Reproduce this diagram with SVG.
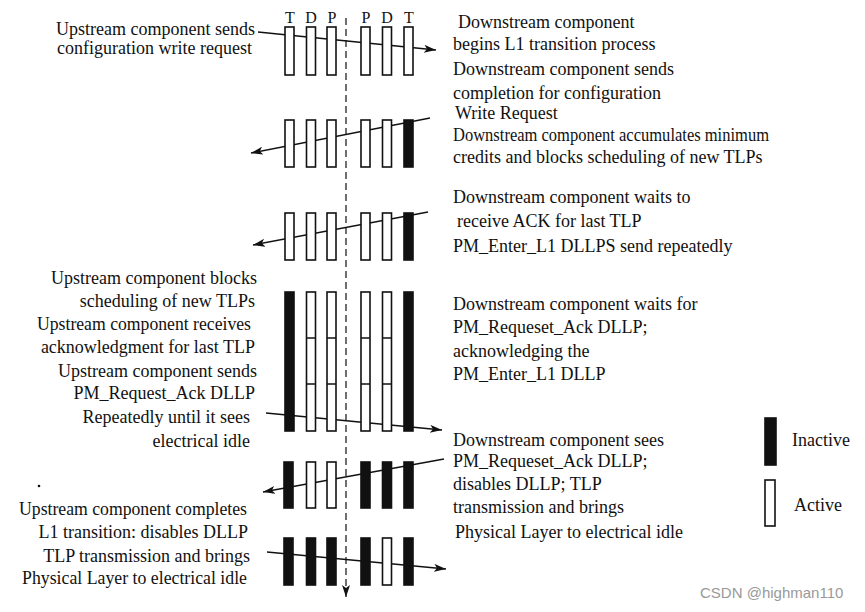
<svg xmlns="http://www.w3.org/2000/svg" width="865" height="612" viewBox="0 0 865 612">
<style>
.t{font-family:"Liberation Serif","Times New Roman",serif;font-size:18px;fill:#111}
.e{text-anchor:end}
.h{font-family:"Liberation Serif","Times New Roman",serif;font-size:16px;fill:#111;text-anchor:middle}
.a{fill:#fff;stroke:#111;stroke-width:1.6}
.i{fill:#111;stroke:#111;stroke-width:1.6}
.c{fill:none;stroke:#111;stroke-width:1.4}
.d{fill:none;stroke:#333;stroke-width:1.4;stroke-dasharray:7 4}
.w{font-family:"Liberation Sans",Arial,sans-serif;font-size:15px;fill:#999}
</style>
<defs>
<marker id="ah" markerUnits="userSpaceOnUse" markerWidth="14" markerHeight="10" refX="12" refY="4" orient="auto">
<path d="M0,0 L12,4 L0,8 L3,4 z" fill="#111"/>
</marker>
</defs>
<rect width="865" height="612" fill="#fff"/>

<g id="headers">
<text class="h" x="290" y="23">T</text>
<text class="h" x="311" y="23">D</text>
<text class="h" x="332" y="23">P</text>
<text class="h" x="366" y="23">P</text>
<text class="h" x="387" y="23">D</text>
<text class="h" x="409" y="23">T</text>
</g>

<g id="connectors">
<line class="d" x1="346" y1="18" x2="346" y2="597" marker-end="url(#ah)"/>
<line class="c" x1="258" y1="32" x2="436" y2="50" marker-end="url(#ah)"/>
<line class="c" x1="430" y1="118" x2="251" y2="153" marker-end="url(#ah)"/>
<line class="c" x1="428" y1="212" x2="253" y2="245" marker-end="url(#ah)"/>
<line class="c" x1="266" y1="413" x2="442" y2="430" marker-end="url(#ah)"/>
<line class="c" x1="444" y1="459" x2="263" y2="492" marker-end="url(#ah)"/>
<line class="c" x1="267" y1="552" x2="446" y2="569" marker-end="url(#ah)"/>
</g>

<g id="row1">
<rect class="a" x="285" y="27" width="9" height="48"/>
<rect class="a" x="306.5" y="27" width="9" height="48"/>
<rect class="a" x="327" y="27" width="9" height="48"/>
<rect class="a" x="361" y="27" width="9" height="48"/>
<rect class="a" x="382.5" y="27" width="9" height="48"/>
<rect class="a" x="404" y="27" width="9" height="48"/>
</g>
<g id="row2">
<rect class="a" x="285" y="120" width="9" height="47"/>
<rect class="a" x="306.5" y="120" width="9" height="47"/>
<rect class="a" x="327" y="120" width="9" height="47"/>
<rect class="a" x="361" y="120" width="9" height="47"/>
<rect class="a" x="382.5" y="120" width="9" height="47"/>
<rect class="i" x="404" y="120" width="9" height="47"/>
</g>
<g id="row3">
<rect class="a" x="285" y="213" width="9" height="47"/>
<rect class="a" x="306.5" y="213" width="9" height="47"/>
<rect class="a" x="327" y="213" width="9" height="47"/>
<rect class="a" x="361" y="213" width="9" height="47"/>
<rect class="a" x="382.5" y="213" width="9" height="47"/>
<rect class="i" x="404" y="213" width="9" height="47"/>
</g>
<g id="row4">
<rect class="i" x="285" y="292" width="9" height="139"/>
<rect class="a" x="306.5" y="292" width="9" height="139"/>
<rect class="a" x="327" y="292" width="9" height="139"/>
<rect class="a" x="361" y="292" width="9" height="139"/>
<rect class="a" x="382.5" y="292" width="9" height="139"/>
<rect class="i" x="404" y="292" width="9" height="139"/>
<path class="c" d="M306.5,338h9M327,338h9M361,338h9M382.5,338h9M306.5,384h9M327,384h9M361,384h9M382.5,384h9"/>
</g>
<g id="row5">
<rect class="i" x="284" y="462" width="9" height="46"/>
<rect class="a" x="306.5" y="462" width="9" height="46"/>
<rect class="a" x="327" y="462" width="9" height="46"/>
<rect class="i" x="361" y="462" width="9" height="46"/>
<rect class="i" x="382.5" y="462" width="9" height="46"/>
<rect class="i" x="404" y="462" width="9" height="46"/>
</g>
<g id="row6">
<rect class="i" x="284" y="538" width="9" height="47"/>
<rect class="i" x="306.5" y="538" width="9" height="47"/>
<rect class="i" x="327" y="538" width="9" height="47"/>
<rect class="i" x="361" y="538" width="9" height="47"/>
<rect class="a" x="382.5" y="538" width="9" height="47"/>
<rect class="i" x="404" y="538" width="9" height="47"/>
</g>

<g id="left1">
<text class="t e" x="255" y="35">Upstream component sends</text>
<text class="t e" x="252" y="54">configuration write request</text>
</g>
<g id="left2">
<text class="t e" x="257" y="284">Upstream component blocks</text>
<text class="t e" x="255" y="307">scheduling of new TLPs</text>
<text class="t e" x="251" y="330" textLength="214" lengthAdjust="spacingAndGlyphs">Upstream component receives</text>
<text class="t e" x="255" y="353">acknowledgment for last TLP</text>
<text class="t e" x="257" y="377">Upstream component sends</text>
<text class="t e" x="255" y="399">PM_Request_Ack DLLP</text>
<text class="t e" x="250" y="423">Repeatedly until it sees</text>
<text class="t e" x="250" y="447">electrical idle</text>
</g>
<circle cx="39" cy="486" r="1.3" fill="#111"/>
<g id="left3">
<text class="t e" x="247" y="515" textLength="228" lengthAdjust="spacingAndGlyphs">Upstream component completes</text>
<text class="t e" x="248" y="538">L1 transition: disables DLLP</text>
<text class="t e" x="250" y="562">TLP transmission and brings</text>
<text class="t e" x="247" y="584" textLength="225" lengthAdjust="spacingAndGlyphs">Physical Layer to electrical idle</text>
</g>

<g id="right1">
<text class="t" x="458" y="28">Downstream component</text>
<text class="t" x="453" y="50">begins L1 transition process</text>
<text class="t" x="453" y="75">Downstream component sends</text>
<text class="t" x="453" y="99">completion for configuration</text>
<text class="t" x="455" y="119">Write Request</text>
<text class="t" x="453" y="141" textLength="316" lengthAdjust="spacingAndGlyphs">Downstream component accumulates minimum</text>
<text class="t" x="453" y="163">credits and blocks scheduling of new TLPs</text>
</g>
<g id="right2">
<text class="t" x="453" y="203">Downstream component waits to</text>
<text class="t" x="457" y="227">receive ACK for last TLP</text>
<text class="t" x="453" y="252">PM_Enter_L1 DLLPS send repeatedly</text>
</g>
<g id="right3">
<text class="t" x="453" y="310">Downstream component waits for</text>
<text class="t" x="453" y="333">PM_Requeset_Ack DLLP;</text>
<text class="t" x="453" y="357">acknowledging the</text>
<text class="t" x="453" y="380">PM_Enter_L1 DLLP</text>
</g>
<g id="right4">
<text class="t" x="453" y="446">Downstream component sees</text>
<text class="t" x="453" y="467">PM_Requeset_Ack DLLP;</text>
<text class="t" x="453" y="490">disables DLLP; TLP</text>
<text class="t" x="453" y="513">transmission and brings</text>
<text class="t" x="455" y="538">Physical Layer to electrical idle</text>
</g>

<g id="legend">
<rect class="i" x="765" y="418" width="11" height="47"/>
<text class="t" x="792" y="446">Inactive</text>
<rect class="a" x="765" y="480" width="10" height="46"/>
<text class="t" x="794" y="511">Active</text>
</g>

<text class="w" x="700" y="598">CSDN @highman110</text>
</svg>
